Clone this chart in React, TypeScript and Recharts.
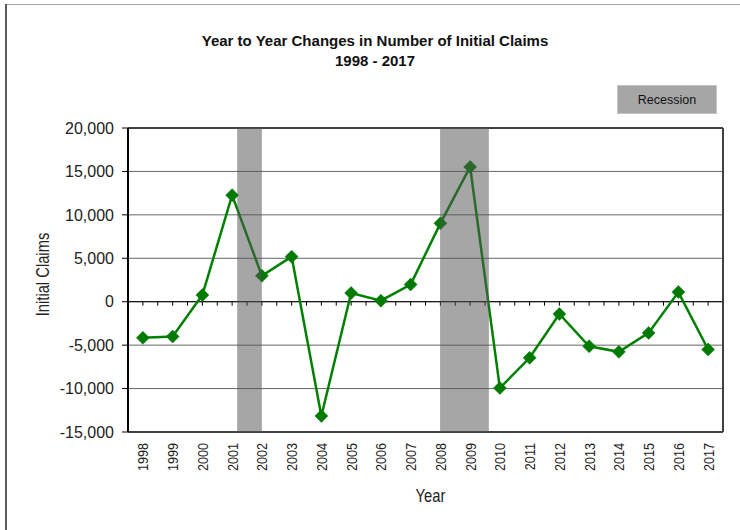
import React from 'react';
import {
  LineChart,
  Line,
  XAxis,
  YAxis,
  CartesianGrid,
  ReferenceArea,
  ReferenceLine,
  ReferenceDot,
} from 'recharts';

const years = [
  1998, 1999, 2000, 2001, 2002, 2003, 2004, 2005, 2006, 2007,
  2008, 2009, 2010, 2011, 2012, 2013, 2014, 2015, 2016, 2017,
];
const claimsChange = [
  -4160, -4010, 770, 12270, 2980, 5190, -13150, 1000, 115, 1980,
  9020, 15520, -9940, -6460, -1410, -5130, -5770, -3590, 1110, -5500,
];
const recessionStart = [2001.17, 2007.99];
const recessionEnd = [2002.0, 2009.63];
const yTicks = [-15000, -10000, -5000, 0, 5000, 10000, 15000, 20000];
const minorTicks = years.flatMap((y) => [y - 0.5, y]).filter((v) => v > 1997.5);

const data = years.map((year, i) => ({ year, value: claimsChange[i] }));

const SANS = "'Liberation Sans', Arial, sans-serif";
const NARROW_SCALE = 0.82;

const XTick = (props: any) => {
  const { x, y, payload } = props;
  return (
    <text
      x={0}
      y={0}
      transform={`translate(${x}, ${y}) rotate(-90) scale(${NARROW_SCALE}, 1)`}
      textAnchor="end"
      dy="0.36em"
      fontFamily={SANS}
      fontSize={15.4}
      fill="#222"
    >
      {payload.value}
    </text>
  );
};

const YTick = (props: any) => {
  const { x, y, payload } = props;
  return (
    <text x={x} y={y} textAnchor="end" dy="0.36em" fontFamily={SANS} fontSize={16} fill="#222">
      {Number(payload.value).toLocaleString('en-US')}
    </text>
  );
};

const Diamond = (props: any) => {
  const { cx, cy, index } = props;
  if (cx == null || cy == null) return null;
  const r = 6.5;
  return (
    <polygon
      key={`d-${index}`}
      points={`${cx},${cy - r} ${cx + r},${cy} ${cx},${cy + r} ${cx - r},${cy}`}
      fill="#007a00"
      stroke="#007a00"
      strokeWidth={0.5}
    />
  );
};

const MinorTick = (props: any) => {
  const { cx, cy } = props;
  if (cx == null || cy == null) return null;
  return <line x1={cx} y1={cy} x2={cx} y2={cy + 4} stroke="#000" strokeWidth={1} />;
};

const chartMargin = { top: 128, right: 17, bottom: 0, left: 0 };
const xDomain: [number, number] = [1997.5, 2017.5];
const yDomain: [number, number] = [-15000, 20000];

export default function App() {
  return (
    <div
      style={{
        position: 'absolute',
        left: 0,
        top: 0,
        width: 740,
        height: 530,
        overflow: 'hidden',
        background: '#fff',
      }}
    >
      <LineChart width={740} height={530} data={data} margin={chartMargin}>
        <CartesianGrid vertical={false} horizontal stroke="#666" strokeWidth={1} />
        <XAxis
          dataKey="year"
          type="number"
          domain={xDomain}
          ticks={years}
          interval={0}
          height={98}
          tick={<XTick />}
          tickLine={false}
          tickSize={0}
          tickMargin={11}
          axisLine={{ stroke: '#404040', strokeWidth: 2 }}
          allowDataOverflow
        />
        <YAxis
          width={128}
          domain={yDomain}
          ticks={yTicks}
          interval={0}
          tick={<YTick />}
          tickLine={{ stroke: '#000', strokeWidth: 1 }}
          tickSize={6}
          tickMargin={8}
          axisLine={{ stroke: '#000', strokeWidth: 2 }}
          allowDataOverflow
        />
        <ReferenceLine y={0} stroke="#000" strokeWidth={1} />
        {minorTicks.map((t) => (
          <ReferenceDot key={`mt-${t}`} x={t} y={0} r={0} shape={<MinorTick />} ifOverflow="visible" />
        ))}
        <ReferenceLine y={20000} stroke="#404040" strokeWidth={2} />
        <ReferenceLine x={2017.5} stroke="#404040" strokeWidth={2} />
        <Line
          type="linear"
          dataKey="value"
          stroke="#008000"
          strokeWidth={2.5}
          dot={<Diamond />}
          activeDot={false}
          isAnimationActive={false}
        />
      </LineChart>
      {/* Recession shading drawn on top of the series, using the same scales */}
      <div style={{ position: 'absolute', left: 0, top: 0, pointerEvents: 'none' }}>
        <LineChart width={740} height={530} data={data} margin={chartMargin}>
          <XAxis
            dataKey="year"
            type="number"
            domain={xDomain}
            ticks={years}
            height={98}
            tick={false}
            tickLine={false}
            axisLine={false}
            allowDataOverflow
          />
          <YAxis
            width={128}
            domain={yDomain}
            ticks={yTicks}
            tick={false}
            tickLine={false}
            axisLine={false}
            allowDataOverflow
          />
          {recessionStart.map((s, i) => (
            <ReferenceArea
              key={`rec-${i}`}
              x1={s}
              x2={recessionEnd[i]}
              y1={-15000}
              y2={20000}
              fill="#555555"
              fillOpacity={0.52}
              stroke="none"
              ifOverflow="visible"
            />
          ))}
        </LineChart>
      </div>
      <svg
        width={740}
        height={530}
        style={{ position: 'absolute', left: 0, top: 0, pointerEvents: 'none' }}
      >
        <line x1={6} y1={4.5} x2={740} y2={4.5} stroke="#a0a0a0" strokeWidth={1} />
        <line x1={6} y1={4} x2={6} y2={530} stroke="#5a5a5a" strokeWidth={2} />
        <text x={375} y={46} textAnchor="middle" fontFamily={SANS} fontWeight="bold" fontSize={15} fill="#111">
          Year to Year Changes in Number of Initial Claims
        </text>
        <text x={375} y={66} textAnchor="middle" fontFamily={SANS} fontWeight="bold" fontSize={15} fill="#111">
          1998 - 2017
        </text>
        <rect x={617.5} y={85.5} width={99} height={28} fill="#a6a6a6" stroke="#c4c4c4" strokeWidth={1} />
        <text x={667} y={99.5} dy="0.36em" textAnchor="middle" fontFamily={SANS} fontSize={12.5} fill="#111">
          Recession
        </text>
        <text
          x={0}
          y={0}
          transform={`translate(48.5, 274.5) rotate(-90) scale(${NARROW_SCALE}, 1)`}
          textAnchor="middle"
          fontFamily={SANS}
          fontSize={18}
          fill="#222"
        >
          Initial Claims
        </text>
        <text
          x={0}
          y={0}
          transform={`translate(430.5, 502) scale(${NARROW_SCALE}, 1)`}
          textAnchor="middle"
          fontFamily={SANS}
          fontSize={18}
          fill="#222"
        >
          Year
        </text>
      </svg>
    </div>
  );
}
